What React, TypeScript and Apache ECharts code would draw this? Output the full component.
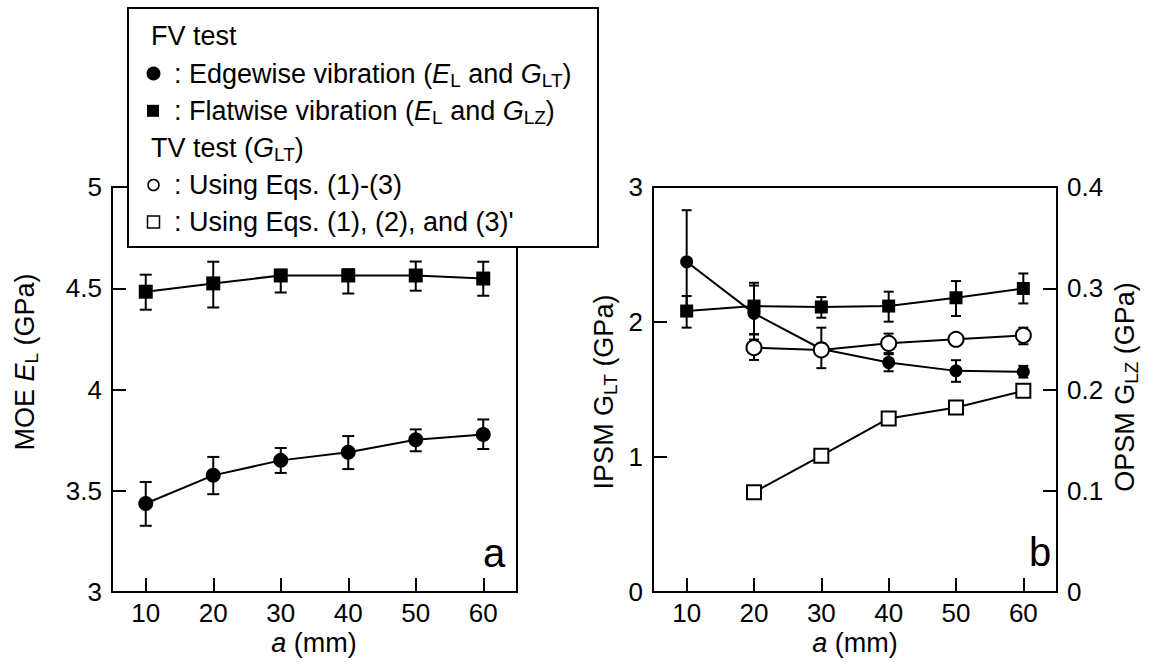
import React, { useEffect, useRef } from "react";
import * as echarts from "echarts";

// ---------- data ----------
const aValues = [10, 20, 30, 40, 50, 60];
const xTickValues = [10, 20, 30, 40, 50, 60];

// panel a: MOE E_L (GPa)
const moeEdgewise = [3.437, 3.576, 3.65, 3.69, 3.752, 3.778];
const moeEdgewiseLo = [3.327, 3.483, 3.588, 3.607, 3.695, 3.706];
const moeEdgewiseHi = [3.543, 3.667, 3.711, 3.77, 3.803, 3.852];
const moeFlatwise = [4.483, 4.524, 4.563, 4.563, 4.563, 4.548];
const moeFlatwiseLo = [4.394, 4.405, 4.479, 4.474, 4.488, 4.463];
const moeFlatwiseHi = [4.567, 4.631, 4.591, 4.594, 4.632, 4.631];

// panel b: IPSM G_LT (GPa), left axis
const gltEdgewise = [2.446, 2.064, 1.8, 1.7, 1.638, 1.631];
const gltEdgewiseLo = [2.064, 1.87, 1.76, 1.635, 1.557, 1.589];
const gltEdgewiseHi = [2.828, 2.27, 1.84, 1.761, 1.717, 1.675];

// panel b: OPSM G_LZ (GPa), right axis
const glzFlatwise = [0.2775, 0.2824, 0.2815, 0.2824, 0.2906, 0.2998];
const glzFlatwiseLo = [0.2611, 0.2545, 0.2709, 0.267, 0.2726, 0.285];
const glzFlatwiseHi = [0.2923, 0.3054, 0.2913, 0.2966, 0.3071, 0.3146];

// panel b: TV test G_LT (GPa)
const tvA = [20, 30, 40, 50, 60];
const tvEqs13 = [1.81, 1.793, 1.842, 1.872, 1.901];
const tvEqs13Lo = [1.719, 1.658, 1.77, 1.845, 1.835];
const tvEqs13Hi = [1.909, 1.958, 1.914, 1.9, 1.958];
const tvEqs123p = [0.739, 1.01, 1.286, 1.367, 1.49];

const yTicksA = [3, 3.5, 4, 4.5, 5];

const FONT = '"Liberation Sans", Arial, Helvetica, sans-serif';
const BLACK = "#000";

const pairs = (xs: number[], ys: number[]) => xs.map((x, i) => [x, ys[i]]);
const triples = (xs: number[], lo: number[], hi: number[]) =>
  xs.map((x, i) => [x, lo[i], hi[i]]);

function errorSeries(data: number[][], xAxisIndex: number, yAxisIndex: number, half: number) {
  return {
    type: "custom",
    xAxisIndex,
    yAxisIndex,
    z: 1,
    data,
    encode: { x: 0, y: [1, 2] },
    renderItem: (_params: any, api: any) => {
      const x = api.value(0);
      const lo = api.coord([x, api.value(1)]);
      const hi = api.coord([x, api.value(2)]);
      const st = { stroke: BLACK, lineWidth: 2 };
      return {
        type: "group",
        children: [
          { type: "line", shape: { x1: lo[0], y1: lo[1], x2: hi[0], y2: hi[1] }, style: st },
          { type: "line", shape: { x1: lo[0] - half, y1: lo[1], x2: lo[0] + half, y2: lo[1] }, style: st },
          { type: "line", shape: { x1: hi[0] - half, y1: hi[1], x2: hi[0] + half, y2: hi[1] }, style: st },
        ],
      };
    },
  };
}

function lineSeries(
  name: string,
  data: number[][],
  xAxisIndex: number,
  yAxisIndex: number,
  symbol: string,
  size: number,
  filled: boolean
) {
  return {
    name,
    type: "line",
    xAxisIndex,
    yAxisIndex,
    z: 3,
    data,
    symbol,
    symbolSize: size,
    lineStyle: { color: BLACK, width: 2 },
    itemStyle: filled
      ? { color: BLACK, borderColor: BLACK, borderWidth: 0 }
      : { color: "#fff", borderColor: BLACK, borderWidth: 2 },
  };
}

const richBase = {
  n: { fontSize: 27, fontFamily: FONT, lineHeight: 32, fill: BLACK },
  i: { fontSize: 27, fontFamily: FONT, fontStyle: "italic", lineHeight: 32, fill: BLACK },
  s: { fontSize: 19, fontFamily: FONT, lineHeight: 18, verticalAlign: "bottom", fill: BLACK },
};

function txt(text: string, x: number, y: number, opts: any = {}) {
  return {
    type: "text",
    x,
    y,
    rotation: opts.rotation || 0,
    z: opts.z || 50,
    style: {
      text,
      rich: richBase,
      fontSize: opts.fontSize || 27,
      fontFamily: FONT,
      fill: BLACK,
      align: opts.align || "left",
      verticalAlign: "middle",
    },
  };
}

const xAxisCommon = (gridIndex: number) => ({
  type: "value",
  gridIndex,
  min: 5,
  max: 65,
  axisLine: { show: true, onZero: false, lineStyle: { color: BLACK, width: 2 } },
  axisTick: { show: true, inside: true, length: 14, customValues: xTickValues, lineStyle: { color: BLACK, width: 2 } },
  axisLabel: { customValues: xTickValues, color: BLACK, fontSize: 26, fontFamily: FONT, margin: 8 },
  splitLine: { show: false },
});

const yAxisCommon = (gridIndex: number, min: number, max: number, interval: number, position: string) => ({
  type: "value",
  gridIndex,
  min,
  max,
  interval,
  position,
  axisLine: { show: true, onZero: false, lineStyle: { color: BLACK, width: 2 } },
  axisTick: { show: true, inside: true, length: 14, lineStyle: { color: BLACK, width: 2 } },
  axisLabel: { color: BLACK, fontSize: 26, fontFamily: FONT, margin: 10 },
  splitLine: { show: false },
});

export default function App() {
  const ref = useRef<HTMLDivElement>(null);
  useEffect(() => {
    if (!ref.current) return;
    const chart = echarts.init(ref.current, undefined, { renderer: "svg" });
    const legendRows = [36, 73.5, 110.8, 148, 185, 222];
    const option: any = {
      animation: false,
      backgroundColor: "#fff",
      grid: [
        { left: 112, top: 187, width: 405, height: 405, show: true, borderColor: BLACK, borderWidth: 2, backgroundColor: "transparent" },
        { left: 653, top: 187, width: 404, height: 405, show: true, borderColor: BLACK, borderWidth: 2, backgroundColor: "transparent" },
      ],
      xAxis: [xAxisCommon(0), xAxisCommon(1)],
      yAxis: [
        { ...yAxisCommon(0, 3, 5, 0.5, "left"), axisLabel: { ...yAxisCommon(0, 3, 5, 0.5, "left").axisLabel, customValues: yTicksA } },
        yAxisCommon(1, 0, 3, 1, "left"),
        yAxisCommon(1, 0, 0.4, 0.1, "right"),
      ],
      series: [
        errorSeries(triples(aValues, moeEdgewiseLo, moeEdgewiseHi), 0, 0, 6),
        errorSeries(triples(aValues, moeFlatwiseLo, moeFlatwiseHi), 0, 0, 6),
        lineSeries("Edgewise E_L", pairs(aValues, moeEdgewise), 0, 0, "circle", 15, true),
        lineSeries("Flatwise E_L", pairs(aValues, moeFlatwise), 0, 0, "rect", 14, true),

        errorSeries(triples(aValues, gltEdgewiseLo, gltEdgewiseHi), 1, 1, 5),
        errorSeries(triples(aValues, glzFlatwiseLo, glzFlatwiseHi), 1, 2, 5),
        errorSeries(triples(tvA, tvEqs13Lo, tvEqs13Hi), 1, 1, 5),
        lineSeries("Edgewise G_LT", pairs(aValues, gltEdgewise), 1, 1, "circle", 13, true),
        lineSeries("Flatwise G_LZ", pairs(aValues, glzFlatwise), 1, 2, "rect", 13, true),
        lineSeries("TV Eqs (1)-(3)", pairs(tvA, tvEqs13), 1, 1, "circle", 15, false),
        lineSeries("TV Eqs (1),(2),(3)'", pairs(tvA, tvEqs123p), 1, 1, "rect", 14, false),
      ],
      graphic: [
        // axis titles
        txt("{n|MOE }{i|E}{s|L}{n| (GPa)}", 25, 362, { rotation: Math.PI / 2, align: "center" }),
        txt("{i|a}{n| (mm)}", 314, 643, { align: "center" }),
        txt("{n|IPSM G}{s|LT}{n| (GPa)}", 604, 392, { rotation: Math.PI / 2, align: "center" }),
        txt("{n|OPSM G}{s|LZ}{n| (GPa)}", 1125, 387, { rotation: Math.PI / 2, align: "center" }),
        txt("{i|a}{n| (mm)}", 855, 643, { align: "center" }),
        // panel letters
        { type: "text", x: 494, y: 553, z: 50, style: { text: "a", fontSize: 40, fontFamily: FONT, fill: BLACK, align: "center", verticalAlign: "middle" } },
        { type: "text", x: 1040, y: 552, z: 50, style: { text: "b", fontSize: 40, fontFamily: FONT, fill: BLACK, align: "center", verticalAlign: "middle" } },
        // legend box
        {
          type: "group",
          z: 100,
          children: [
            { type: "rect", z: 100, shape: { x: 128, y: 8, width: 470, height: 239 }, style: { fill: "#fff", stroke: BLACK, lineWidth: 2 } },
            txt("{n|FV test}", 151, legendRows[0], { z: 101 }),
            { type: "circle", z: 101, shape: { cx: 153.5, cy: legendRows[1], r: 7 }, style: { fill: BLACK } },
            txt("{n|: Edgewise vibration (}{i|E}{s|L}{n| and }{i|G}{s|LT}{n|)}", 174, legendRows[1], { z: 101 }),
            { type: "rect", z: 101, shape: { x: 147, y: legendRows[2] - 6, width: 12, height: 12 }, style: { fill: BLACK } },
            txt("{n|: Flatwise vibration (}{i|E}{s|L}{n| and }{i|G}{s|LZ}{n|)}", 174, legendRows[2], { z: 101 }),
            txt("{n|TV test (}{i|G}{s|LT}{n|)}", 151, legendRows[3], { z: 101 }),
            { type: "circle", z: 101, shape: { cx: 153.5, cy: legendRows[4], r: 5.5 }, style: { fill: "#fff", stroke: BLACK, lineWidth: 1.5 } },
            txt("{n|: Using Eqs. (1)-(3)}", 174, legendRows[4], { z: 101 }),
            { type: "rect", z: 101, shape: { x: 147.5, y: legendRows[5] - 6, width: 12, height: 12 }, style: { fill: "#fff", stroke: BLACK, lineWidth: 1.5 } },
            txt("{n|: Using Eqs. (1), (2), and (3)'}", 174, legendRows[5], { z: 101 }),
          ],
        },
      ],
    };
    chart.setOption(option);
    return () => chart.dispose();
  }, []);
  return (
    <div
      ref={ref}
      style={{ position: "fixed", left: 0, top: 0, width: 1149, height: 662, background: "#fff" }}
    />
  );
}
